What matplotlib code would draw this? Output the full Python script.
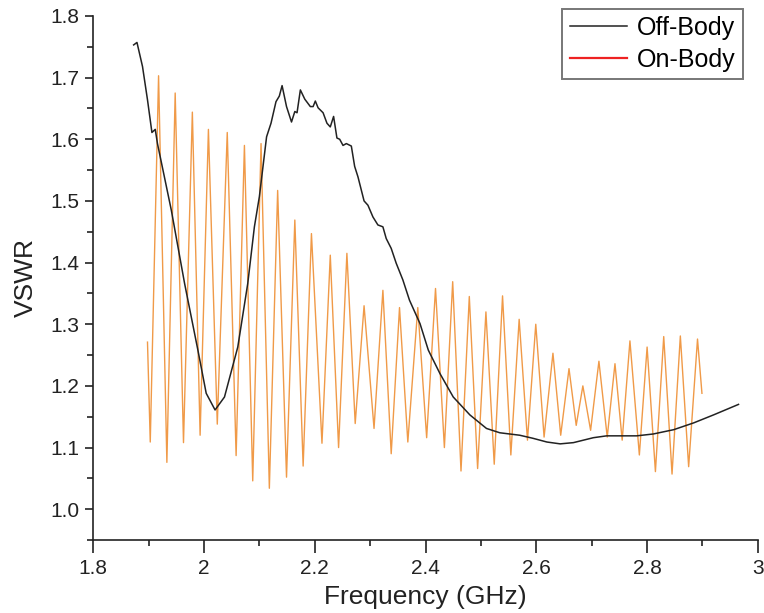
import matplotlib
matplotlib.use("Agg")
import matplotlib.pyplot as plt
from matplotlib.lines import Line2D
from matplotlib.ticker import MultipleLocator

plt.rcParams['font.family'] = ['Liberation Sans', 'DejaVu Sans']

off_freq = [1.873, 1.879, 1.889, 1.898, 1.906, 1.912, 1.916, 1.941, 1.965, 1.989,
            2.004, 2.020, 2.037, 2.061, 2.079, 2.091, 2.100, 2.113, 2.121, 2.130,
            2.136, 2.141, 2.149, 2.158, 2.164, 2.168, 2.174, 2.182, 2.192, 2.197,
            2.201, 2.206, 2.215, 2.222, 2.228, 2.234, 2.240, 2.245, 2.251, 2.257,
            2.266, 2.272, 2.278, 2.289, 2.296, 2.305, 2.314, 2.323, 2.329, 2.338,
            2.347, 2.359, 2.371, 2.390, 2.405, 2.426, 2.450, 2.480, 2.510, 2.534,
            2.570, 2.594, 2.619, 2.643, 2.667, 2.703, 2.727, 2.781, 2.811, 2.848,
            2.884, 2.920, 2.965]
off_vswr = [1.753, 1.757, 1.718, 1.664, 1.611, 1.616, 1.593, 1.485, 1.366, 1.258,
            1.188, 1.161, 1.182, 1.263, 1.366, 1.458, 1.507, 1.604, 1.626, 1.661,
            1.670, 1.687, 1.653, 1.628, 1.645, 1.643, 1.680, 1.665, 1.653, 1.653,
            1.662, 1.651, 1.643, 1.626, 1.620, 1.637, 1.602, 1.600, 1.590, 1.593,
            1.589, 1.556, 1.539, 1.500, 1.493, 1.474, 1.461, 1.458, 1.439, 1.423,
            1.399, 1.372, 1.339, 1.301, 1.258, 1.220, 1.182, 1.153, 1.131, 1.124,
            1.120, 1.115, 1.109, 1.106, 1.108, 1.116, 1.119, 1.119, 1.122, 1.129,
            1.140, 1.153, 1.170]

# On-Body measurement (peaks and troughs)
on_freq = [1.898, 1.903, 1.918, 1.933, 1.948, 1.963, 1.979, 1.993, 2.008, 2.024,
           2.042, 2.058, 2.073, 2.088, 2.103, 2.118, 2.133, 2.149, 2.164, 2.179,
           2.194, 2.213, 2.228, 2.243, 2.258, 2.273, 2.289, 2.307, 2.323, 2.338,
           2.353, 2.368, 2.386, 2.402, 2.418, 2.434, 2.449, 2.464, 2.479, 2.494,
           2.509, 2.524, 2.539, 2.554, 2.569, 2.584, 2.599, 2.614, 2.630, 2.644,
           2.659, 2.672, 2.684, 2.698, 2.713, 2.728, 2.742, 2.755, 2.769, 2.786,
           2.800, 2.815, 2.830, 2.845, 2.860, 2.875, 2.891, 2.899]
on_vswr = [1.271, 1.109, 1.703, 1.076, 1.675, 1.108, 1.644, 1.120, 1.616, 1.138,
           1.611, 1.087, 1.590, 1.046, 1.593, 1.034, 1.517, 1.052, 1.469, 1.070,
           1.447, 1.107, 1.412, 1.100, 1.415, 1.139, 1.330, 1.131, 1.355, 1.090,
           1.327, 1.109, 1.327, 1.116, 1.358, 1.100, 1.369, 1.062, 1.345, 1.066,
           1.320, 1.073, 1.346, 1.088, 1.308, 1.112, 1.300, 1.117, 1.253, 1.120,
           1.228, 1.136, 1.200, 1.128, 1.240, 1.117, 1.236, 1.112, 1.273, 1.088,
           1.263, 1.061, 1.280, 1.057, 1.281, 1.069, 1.276, 1.188]

fig = plt.figure(figsize=(7.64, 6.13), dpi=100)
ax = fig.add_axes([0.122, 0.119, 0.870, 0.855])

ax.plot(on_freq, on_vswr, color='#f09a48', lw=1.0)
ax.plot(off_freq, off_vswr, color='#222222', lw=1.1)

ax.set_xlim(1.8, 3.0)
ax.set_ylim(0.95, 1.8)
ax.xaxis.set_minor_locator(MultipleLocator(0.1))
ax.yaxis.set_minor_locator(MultipleLocator(0.05))
ax.set_xticks([1.8, 2.0, 2.2, 2.4, 2.6, 2.8, 3.0])
ax.set_xticklabels(['1.8', '2', '2.2', '2.4', '2.6', '2.8', '3'])
ax.set_yticks([1.0, 1.1, 1.2, 1.3, 1.4, 1.5, 1.6, 1.7, 1.8])
ax.set_yticklabels(['1.0', '1.1', '1.2', '1.3', '1.4', '1.5', '1.6', '1.7', '1.8'])

for s in ['top', 'right']:
    ax.spines[s].set_visible(False)
for s in ['left', 'bottom']:
    ax.spines[s].set_linewidth(1.2)
    ax.spines[s].set_color('#222222')

ax.tick_params(which='both', direction='out', width=1.2, colors='#222222', labelsize=15)
ax.tick_params(axis='x', which='major', length=9, pad=5)
ax.tick_params(axis='x', which='minor', length=4.5)
ax.tick_params(axis='y', which='major', length=6, pad=4)
ax.tick_params(axis='y', which='minor', length=4)

ax.set_xlabel('Frequency (GHz)', fontsize=19, color='#222222', labelpad=5)
ax.set_ylabel('VSWR', fontsize=19, color='#222222', labelpad=9)

handles = [Line2D([], [], color='#222222', lw=1.1),
           Line2D([], [], color='#ee2222', lw=1.6)]
leg = ax.legend(handles, ['Off-Body', 'On-Body'], loc='upper right',
                bbox_to_anchor=(0.978, 1.014), fontsize=18, frameon=True,
                fancybox=False, handlelength=2.3, handletextpad=0.4,
                borderpad=0.3, labelspacing=0.3, borderaxespad=0.0)
leg.get_frame().set_edgecolor('#555555')
leg.get_frame().set_linewidth(1.4)

fig.savefig('out.png', dpi=100)
